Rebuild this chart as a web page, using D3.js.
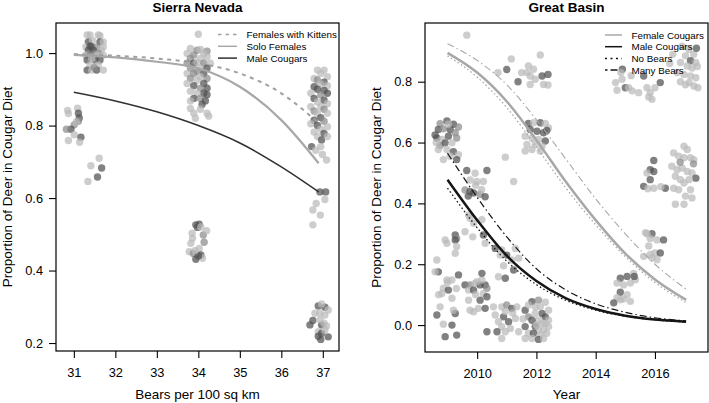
<!DOCTYPE html>
<html><head><meta charset="utf-8">
<script src="https://cdn.jsdelivr.net/npm/d3@7"></script>
<style>body{margin:0;background:#fff}svg{display:block;font-family:"Liberation Sans",Arial,Helvetica,sans-serif}</style>
</head><body><svg id="c" width="709" height="403"></svg>
<script>
// ---------- Sierra Nevada ----------
const snTitle = "Sierra Nevada";
const snXTicks = [31, 32, 33, 34, 35, 36, 37];
const snYTicks = [0.2, 0.4, 0.6, 0.8, 1.0];
const snCurveX = [31, 32, 33, 34, 35, 36, 36.9];
const snKittens = [0.997, 0.993, 0.985, 0.972, 0.944, 0.889, 0.807];
const snSolo = [0.995, 0.988, 0.976, 0.958, 0.907, 0.815, 0.696];
const snMale = [0.892, 0.868, 0.838, 0.80, 0.752, 0.686, 0.617];
const snLegend = ["Females with Kittens", "Solo Females", "Male Cougars"];
// points: [bears, proportion, shade]
const snPoints = [
[30.85,0.842,0],[30.87,0.833,0],[31.09,0.848,0],[31.11,0.834,2],[31.13,0.821,2],[31.11,0.812,1],[31.01,0.802,1],[30.93,0.790,2],[30.82,0.790,1],[31.01,0.775,0],[31.17,0.768,2],[30.87,0.759,0],[31.14,0.754,0],[31.06,0.81,0],
[31.61,0.710,0],[31.41,0.689,0],[31.67,0.683,2],[31.57,0.658,2],[31.34,0.646,0],
[31.32,1.050,0],[31.39,1.050,0],[31.59,1.050,0],[31.63,1.048,0],[31.35,1.031,2],[31.63,1.031,2],[31.71,1.031,0],[31.45,1.035,0],
[31.29,1.017,0],[31.43,1.017,2],[31.55,1.017,1],[31.71,1.017,0],[31.39,1.02,2],[31.35,1.008,2],[31.47,1.008,2],[31.66,1.008,0],[31.59,1.0,1],
[31.29,0.994,0],[31.39,0.994,1],[31.55,0.994,0],[31.71,0.994,0],[31.32,0.981,2],[31.51,0.981,2],[31.63,0.981,2],[31.43,0.985,0],
[31.39,0.967,0],[31.59,0.967,0],[31.32,0.953,2],[31.43,0.953,0],[31.55,0.953,2],[31.71,0.953,0],[31.49,0.96,1],
[34.0,1.052,0],[33.81,1.013,0],[33.97,1.008,1],[34.05,1.01,0],[34.21,1.005,1],[33.73,0.999,0],[33.89,0.995,1],[34.13,0.999,0],[33.81,0.985,1],[34.05,0.985,0],[34.21,0.99,0],
[33.73,0.972,1],[33.89,0.972,2],[33.97,0.975,0],[34.13,0.972,1],[34.29,0.972,0],[33.81,0.958,1],[34.05,0.96,0],[34.21,0.958,2],[33.97,0.95,1],
[33.73,0.944,0],[33.89,0.944,1],[34.13,0.944,2],[34.05,0.935,0],[33.81,0.930,1],[34.21,0.930,1],[33.97,0.925,0],[34.13,0.916,2],
[33.73,0.916,0],[33.89,0.91,2],[34.21,0.903,2],[34.05,0.903,1],[33.81,0.895,0],[34.13,0.889,2],[34.21,0.885,2],[33.97,0.889,0],
[33.89,0.875,2],[34.05,0.875,1],[34.17,0.868,2],[33.81,0.868,0],[34.09,0.858,2],[33.81,0.847,0],[33.89,0.834,0],[34.21,0.834,0],[33.93,0.82,0],[34.25,0.826,0],[34.05,0.845,0],
[33.94,0.526,2],[34.02,0.528,2],[33.98,0.519,2],[33.85,0.503,0],[34.12,0.498,1],[34.20,0.510,0],[33.86,0.489,0],[33.82,0.475,0],[34.14,0.478,1],[34.02,0.461,0],[33.78,0.452,0],[33.88,0.447,1],[33.94,0.431,2],[34.06,0.443,2],[34.10,0.434,0],[34.0,0.44,2],[34.06,0.52,0],[33.92,0.455,0],
[36.87,0.953,0],[37.03,0.953,0],[36.95,0.944,0],[36.79,0.93,0],[37.11,0.935,0],[36.87,0.926,1],[37.03,0.92,2],[36.95,0.915,0],[36.79,0.907,2],[37.11,0.91,0],
[36.87,0.9,2],[37.03,0.897,2],[37.11,0.889,2],[36.71,0.889,0],[36.95,0.885,1],[36.79,0.875,2],[37.03,0.87,2],[36.87,0.865,0],[37.11,0.86,0],[36.95,0.852,0],
[36.71,0.852,0],[37.03,0.845,1],[36.79,0.84,1],[36.87,0.834,0],[37.11,0.834,0],[36.95,0.822,2],[36.79,0.815,2],[37.03,0.812,1],[36.71,0.805,0],[36.87,0.8,2],
[37.11,0.797,0],[36.95,0.79,0],[36.79,0.782,0],[37.03,0.778,2],[36.87,0.77,0],[36.73,0.742,2],[36.97,0.76,2],[37.11,0.77,0],[36.95,0.742,0],[36.83,0.732,0],[37.09,0.705,0],[36.99,0.72,0],
[36.93,0.617,2],[37.07,0.617,2],[37.05,0.596,0],[36.84,0.585,0],[36.76,0.567,0],[36.94,0.553,0],[36.76,0.526,0],
[36.89,0.302,2],[37.05,0.299,2],[36.97,0.308,0],[37.13,0.291,0],[36.81,0.282,0],[36.93,0.282,0],[37.05,0.277,0],[36.76,0.262,2],[36.69,0.25,2],[36.97,0.25,2],[37.09,0.247,0],[36.93,0.264,0],[36.89,0.231,0],[36.97,0.227,2],[36.89,0.219,2],[36.95,0.21,2],[37.13,0.217,2],[37.05,0.236,0],[37.03,0.255,0]
];

// ---------- Great Basin ----------
const gbTitle = "Great Basin";
const gbXTicks = [2010, 2012, 2014, 2016];
const gbYTicks = [0.0, 0.2, 0.4, 0.6, 0.8];
const gbCurveX = [2009, 2010, 2011, 2012, 2013, 2014, 2015, 2016, 2017.05];
const gbFemale = [0.895, 0.83, 0.735, 0.608, 0.47, 0.345, 0.235, 0.15, 0.083];
const gbFemaleMany = [0.925, 0.87, 0.79, 0.675, 0.545, 0.415, 0.30, 0.20, 0.118];
const gbFemaleNone = [0.885, 0.815, 0.715, 0.585, 0.45, 0.33, 0.225, 0.14, 0.074];
const gbMale = [0.478, 0.345, 0.228, 0.145, 0.088, 0.053, 0.031, 0.018, 0.011];
const gbMaleMany = [0.565, 0.42, 0.29, 0.185, 0.115, 0.07, 0.042, 0.024, 0.014];
const gbMaleNone = [0.45, 0.32, 0.21, 0.133, 0.081, 0.049, 0.029, 0.017, 0.010];
const gbLegend = ["Female Cougars", "Male Cougars", "No Bears", "Many Bears"];
const gbPoints = [
[2008.75,0.662,1],[2008.98,0.671,2],[2009.20,0.660,2],[2009.37,0.651,1],[2008.69,0.643,2],[2008.86,0.645,1],[2009.09,0.643,2],[2009.26,0.632,1],[2008.64,0.615,2],[2008.81,0.610,0],[2009.03,0.621,2],[2009.31,0.615,1],[2008.75,0.590,1],[2008.92,0.599,2],[2009.15,0.599,0],[2008.69,0.577,0],[2008.98,0.577,0],[2009.20,0.570,2],[2008.86,0.544,0],[2009.09,0.555,0],[2009.37,0.560,0],[2009.31,0.544,2],[2008.58,0.625,2],[2009.03,0.660,0],[2008.62,0.60,0],
[2008.92,0.280,0],[2008.98,0.269,0],[2009.26,0.296,2],[2009.31,0.285,1],[2009.26,0.280,2],[2009.31,0.258,0],[2009.26,0.236,0],[2008.64,0.214,0],[2008.69,0.175,2],[2008.58,0.175,0],[2008.98,0.148,0],[2009.15,0.148,0],[2008.86,0.121,0],[2009.03,0.115,2],[2008.81,0.104,0],[2009.15,0.088,0],[2009.37,0.165,2],[2008.64,0.033,2],[2008.86,0.003,0],[2009.15,0.0,2],[2008.92,-0.038,2],[2009.31,-0.033,2],[2009.26,0.038,2],[2009.20,0.049,0],[2008.75,0.06,0],[2008.70,0.10,0],[2009.0,0.14,0],[2009.3,0.12,0],
[2009.65,0.508,2],[2009.93,0.499,0],[2010.33,0.508,2],[2009.76,0.477,0],[2009.99,0.472,0],[2010.21,0.472,0],[2009.59,0.444,1],[2009.76,0.439,2],[2009.88,0.434,2],[2010.10,0.430,1],[2010.27,0.422,2],[2009.95,0.46,0],[2010.15,0.445,0],[2009.70,0.424,2],
[2009.71,0.362,0],[2009.76,0.351,0],[2009.88,0.335,0],[2010.16,0.346,0],[2009.59,0.307,0],[2010.21,0.296,2],[2010.27,0.269,0],[2009.85,0.29,0],
[2009.59,0.132,2],[2009.76,0.132,1],[2009.93,0.137,0],[2010.10,0.132,2],[2010.27,0.132,2],[2010.33,0.121,1],[2009.99,0.143,0],[2010.16,0.148,0],[2010.16,0.170,2],[2009.71,0.115,0],[2009.88,0.115,2],[2010.21,0.104,0],[2010.10,0.082,2],[2010.33,0.093,2],[2009.76,0.049,0],[2009.88,0.044,0],[2010.04,0.055,0],[2010.27,0.055,2],[2009.71,0.082,0],[2010.33,-0.022,2],[2009.95,0.10,0],
[2010.61,0.252,2],[2010.83,0.247,0],[2011.0,0.230,2],[2011.17,0.214,0],[2011.23,0.181,2],[2011.40,0.220,0],[2011.29,0.252,0],[2010.72,0.159,0],[2010.95,0.154,2],[2010.78,0.230,0],[2010.89,0.195,0],
[2010.55,0.060,0],[2010.83,0.060,0],[2011.0,0.066,1],[2011.17,0.055,2],[2011.34,0.060,0],[2010.61,0.033,0],[2010.89,0.027,2],[2011.06,0.011,2],[2010.72,0.011,0],[2011.29,0.022,0],[2010.83,-0.005,0],[2011.12,-0.011,0],[2010.67,-0.022,2],[2010.95,-0.022,0],[2011.40,-0.022,0],[2010.83,-0.044,0],[2011.2,0.04,0],[2010.95,0.045,0],
[2012.13,0.888,0],[2011.73,0.852,0],[2011.90,0.841,0],[2011.68,0.830,0],[2011.79,0.819,0],[2012.19,0.819,2],[2012.39,0.824,2],[2011.79,0.791,0],[2012.24,0.791,0],[2012.39,0.789,0],[2011.96,0.808,0],[2011.50,0.83,0],
[2009.65,0.953,0],[2011.15,0.875,0],[2011.0,0.84,2],[2011.38,0.80,2],[2010.70,0.83,0],[2010.95,0.552,0],[2011.23,0.472,0],
[2011.73,0.663,2],[2011.90,0.665,0],[2012.13,0.665,2],[2012.30,0.663,0],[2012.41,0.648,0],[2011.79,0.643,2],[2012.02,0.637,2],[2012.24,0.632,2],[2011.62,0.621,0],[2011.85,0.615,0],[2012.07,0.610,0],[2012.30,0.605,2],[2011.68,0.594,0],[2011.96,0.594,0],[2012.19,0.588,0],[2011.62,0.572,0],[2011.85,0.577,0],[2012.13,0.572,0],[2012.35,0.640,2],
[2011.85,0.077,2],[2012.07,0.082,1],[2012.30,0.075,0],[2011.62,0.049,2],[2011.73,0.066,0],[2011.96,0.060,0],[2012.19,0.038,2],[2012.30,0.027,2],[2012.41,0.049,0],[2011.73,0.027,1],[2011.96,0.038,0],[2012.07,0.016,0],[2011.85,0.016,2],[2012.19,0.005,0],[2012.30,0.005,0],[2011.62,-0.005,2],[2011.96,-0.005,2],[2012.07,-0.016,0],[2012.24,-0.016,0],[2011.73,-0.027,0],[2011.90,-0.027,2],[2012.13,-0.033,0],[2012.35,-0.027,0],[2011.62,-0.044,0],[2011.85,-0.044,0],[2012.07,-0.047,2],[2012.24,-0.044,0],[2012.41,0.016,0],[2012.13,0.060,0],[2012.41,-0.005,0],[2011.55,0.02,0],[2012.0,0.0,0],
[2014.83,0.154,2],[2015.06,0.160,2],[2014.72,0.138,0],[2014.94,0.132,0],[2015.17,0.138,0],[2015.34,0.149,0],[2014.83,0.108,2],[2015.06,0.100,0],[2014.72,0.090,0],[2014.94,0.086,0],[2015.17,0.078,0],[2014.61,0.073,2],[2014.83,0.083,0],[2015.28,0.17,0],[2015.30,0.16,2],
[2015.90,0.300,2],[2015.68,0.304,0],[2015.84,0.285,0],[2016.07,0.28,0],[2016.29,0.280,2],[2015.79,0.260,0],[2016.0,0.237,0],[2016.18,0.237,2],[2015.84,0.232,0],[2015.62,0.226,0],[2015.90,0.221,0],[2016.07,0.215,0],[2015.73,0.30,0],
[2015.96,0.541,2],[2015.84,0.511,2],[2015.96,0.505,2],[2015.73,0.50,0],[2015.84,0.478,2],[2015.62,0.456,2],[2015.76,0.448,0],[2015.96,0.45,0],[2016.35,0.45,2],[2016.2,0.455,0],
[2016.98,0.588,0],[2017.09,0.577,0],[2016.63,0.566,0],[2016.80,0.555,0],[2016.98,0.550,0],[2017.20,0.550,0],[2017.31,0.544,0],[2016.57,0.522,0],[2016.75,0.511,0],[2016.92,0.516,0],[2017.09,0.505,0],[2017.25,0.500,0],[2017.38,0.483,2],[2016.69,0.489,0],[2016.86,0.478,0],[2017.15,0.478,0],[2016.98,0.467,0],[2016.63,0.450,0],[2016.80,0.445,0],[2017.20,0.445,0],[2017.03,0.424,0],[2016.69,0.397,0],[2016.98,0.397,0],[2017.25,0.418,0],[2017.3,0.53,1],[2016.85,0.535,1],
[2014.67,0.797,0],[2014.72,0.772,0],[2014.89,0.808,0],[2015.0,0.78,2],[2015.11,0.78,0],[2015.23,0.77,0],[2015.45,0.764,0],[2015.62,0.819,2],[2015.73,0.780,0],[2015.84,0.764,0],[2015.90,0.742,0],[2016.0,0.78,0],[2016.18,0.797,2],[2015.79,0.75,0],[2014.9,0.841,2],[2014.85,0.83,0],[2015.2,0.82,0],
[2016.92,0.917,0],[2017.15,0.906,0],[2017.31,0.89,0],[2017.03,0.885,0],[2017.20,0.869,2],[2017.38,0.863,0],[2016.86,0.863,0],[2017.09,0.852,0],[2017.25,0.845,0],[2017.43,0.85,0],[2016.75,0.830,0],[2016.98,0.824,0],[2017.20,0.819,0],[2017.38,0.813,0],[2017.15,0.797,0],[2017.31,0.786,0],[2016.86,0.80,0],[2017.03,0.79,0],[2016.6,0.89,0],[2017.4,0.91,2],[2017.45,0.78,0],[2016.5,0.86,0]
];

const shadeFill = ["#bababa", "#8a8a8a", "#505050"];
const FONT = '"Liberation Sans", Arial, Helvetica, sans-serif';
const svg = d3.select("#c");

function panel(o) {
  const g = svg.append("g");
  const x = d3.scaleLinear().domain(o.xd).range([o.l, o.r]);
  const y = d3.scaleLinear().domain(o.yd).range([o.b, o.t]);
  const cid = "clip" + o.id;
  svg.append("clipPath").attr("id", cid).append("rect")
    .attr("x", o.l).attr("y", o.t).attr("width", o.r - o.l).attr("height", o.b - o.t);
  // points
  g.append("g").attr("clip-path", `url(#${cid})`).selectAll("circle").data(o.points).join("circle")
    .attr("cx", d => x(d[0])).attr("cy", d => y(d[1])).attr("r", 3.7)
    .attr("fill", d => shadeFill[d[2]]).attr("fill-opacity", 0.72);
  // curves
  const lg = g.append("g").attr("clip-path", `url(#${cid})`);
  o.curves.forEach(c => {
    const line = d3.line().x((d, i) => x(o.cx[i])).y(d => y(d)).curve(d3.curveMonotoneX);
    lg.append("path").attr("d", line(c.v)).attr("fill", "none")
      .attr("stroke", c.color).attr("stroke-width", c.w).attr("stroke-dasharray", c.dash || null);
  });
  // box
  g.append("rect").attr("x", o.l).attr("y", o.t).attr("width", o.r - o.l).attr("height", o.b - o.t)
    .attr("fill", "none").attr("stroke", "#000").attr("stroke-width", 1.2);
  // axes
  const ax = g.append("g").attr("transform", `translate(0,${o.b})`)
    .call(d3.axisBottom(x).tickValues(o.xt).tickSize(7).tickPadding(10).tickFormat(d3.format("d")));
  const ay = g.append("g").attr("transform", `translate(${o.l},0)`)
    .call(d3.axisLeft(y).tickValues(o.yt).tickSize(7).tickPadding(6).tickFormat(d3.format(".1f")));
  [ax, ay].forEach(a => {
    a.select(".domain").remove();
    a.selectAll("line").attr("stroke", "#000").attr("stroke-width", 1.1);
    a.selectAll("text").attr("font-family", FONT).attr("font-size", 12.8).attr("fill", "#000");
  });
  // titles
  g.append("text").attr("x", (o.l + o.r) / 2).attr("y", 12).attr("text-anchor", "middle")
    .attr("font-family", FONT).attr("font-weight", "bold").attr("font-size", 13.5).text(o.title);
  g.append("text").attr("x", (o.l + o.r) / 2).attr("y", 399).attr("text-anchor", "middle")
    .attr("font-family", FONT).attr("font-size", 13.5).text(o.xlab);
  g.append("text").attr("transform", `translate(${o.ylx},${(o.t + o.b) / 2}) rotate(-90)`)
    .attr("text-anchor", "middle").attr("font-family", FONT).attr("font-size", 13.5)
    .text("Proportion of Deer in Cougar Diet");
  // legend
  const leg = g.append("g");
  o.legend.forEach((it, i) => {
    const yy = o.legY + i * o.legDy;
    leg.append("line").attr("x1", o.legX).attr("x2", o.legX + o.legLen).attr("y1", yy).attr("y2", yy)
      .attr("stroke", it.color).attr("stroke-width", it.w).attr("stroke-dasharray", it.dash || null);
    leg.append("text").attr("x", o.legX + o.legLen + 9.5).attr("y", yy + 3.5)
      .attr("font-family", FONT).attr("font-size", 9.8).text(it.label);
  });
}

panel({
  id: "sn", l: 56, r: 339, t: 23, b: 351, xd: [30.57, 37.39], yd: [0.178, 1.083],
  xt: snXTicks, yt: snYTicks, title: snTitle, xlab: "Bears per 100 sq km", ylx: 12,
  points: snPoints, cx: snCurveX,
  curves: [
    {v: snMale, color: "#303030", w: 1.5},
    {v: snSolo, color: "#a8a8a8", w: 2.2},
    {v: snKittens, color: "#a0a0a0", w: 2, dash: "4,4.5"}
  ],
  legX: 218, legLen: 19, legY: 34.5, legDy: 11.8,
  legend: [
    {label: snLegend[0], color: "#a0a0a0", w: 1.5, dash: "3.5,4"},
    {label: snLegend[1], color: "#a8a8a8", w: 1.5},
    {label: snLegend[2], color: "#303030", w: 1.5}
  ]
});

panel({
  id: "gb", l: 425, r: 708, t: 23, b: 352, xd: [2008.24, 2017.79], yd: [-0.0885, 0.993],
  xt: gbXTicks, yt: gbYTicks, title: gbTitle, xlab: "Year", ylx: 381,
  points: gbPoints, cx: gbCurveX,
  curves: [
    {v: gbFemaleMany, color: "#a8a8a8", w: 1.1, dash: "7,3,1.5,3"},
    {v: gbFemaleNone, color: "#a8a8a8", w: 1.3, dash: "1.5,2.5"},
    {v: gbFemale, color: "#a8a8a8", w: 2.5},
    {v: gbMaleMany, color: "#151515", w: 1.2, dash: "7,3,1.5,3"},
    {v: gbMaleNone, color: "#151515", w: 1.3, dash: "1.5,2.5"},
    {v: gbMale, color: "#151515", w: 2.5}
  ],
  legX: 605, legLen: 17, legY: 35, legDy: 11.7,
  legend: [
    {label: gbLegend[0], color: "#a8a8a8", w: 1.5},
    {label: gbLegend[1], color: "#151515", w: 1.5},
    {label: gbLegend[2], color: "#151515", w: 1.5, dash: "2,3.5"},
    {label: gbLegend[3], color: "#151515", w: 1.5, dash: "2.5,3,7,10"}
  ]
});
</script>
</body></html>
